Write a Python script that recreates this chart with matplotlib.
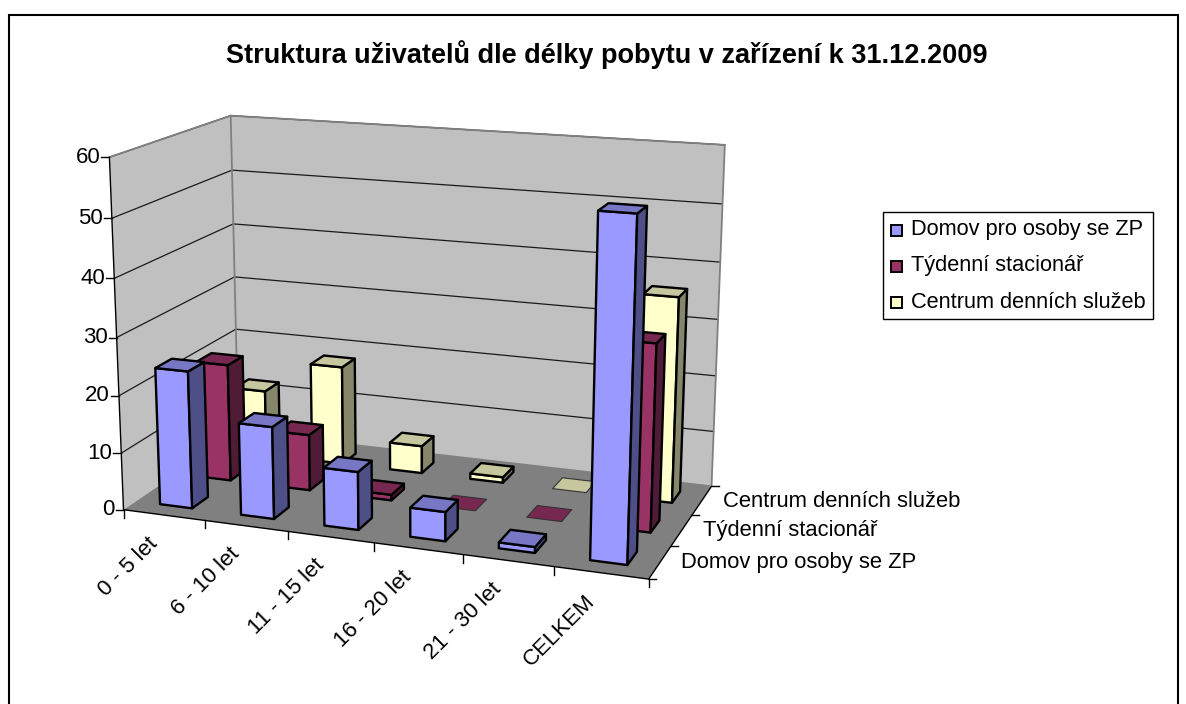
import numpy as np
import matplotlib
matplotlib.use("Agg")
import matplotlib.pyplot as plt
from matplotlib.patches import Rectangle

plt.rcParams['font.family'] = ['Liberation Sans', 'DejaVu Sans']

title = "Struktura uživatelů dle délky pobytu v zařízení k 31.12.2009"
categories = ["0 - 5 let", "6 - 10 let", "11 - 15 let", "16 - 20 let", "21 - 30 let", "CELKEM"]
series_names = ["Domov pro osoby se ZP", "Týdenní stacionář", "Centrum denních služeb"]
domov = [24, 16, 10, 5, 1, 56]
tydenni = [21, 10, 1, 0, 0, 32]
centrum = [12, 18, 5, 1, 0, 36]
y_ticks = [0, 10, 20, 30, 40, 50, 60]
Y_MAX = 60

series_values = [domov, tydenni, centrum]
front = ['#9999FF', '#993366', '#FFFFCC']
top = ['#7777C6', '#772850', '#C6C69F']
side = ['#4F4F87', '#501B36', '#86866B']

# Projective camera fitted to the corners of the plot box (pixel anchors)
anchors = [((0, 0, 0), (123.3, 510.0)), ((1, 0, 0), (648.3, 579.3)),
           ((1, 1, 0), (711.7, 486.0)), ((0, 1, 0), (238.7, 431.5)),
           ((0, 0, 1), (110.0, 156.7)), ((0, 1, 1), (230.0, 116.0)),
           ((1, 1, 1), (725.0, 145.0))]
rows = []
for (X, Y, Z), (u, v) in anchors:
    p = [X, Y, Z, 1]
    rows.append(p + [0, 0, 0, 0] + [-u * c for c in p])
    rows.append([0, 0, 0, 0] + p + [-v * c for c in p])
P = np.linalg.svd(np.array(rows, float))[2][-1].reshape(3, 4)


def proj(x, d, z):
    """x in category units, d in series units, z in value units -> pixels."""
    h = P @ np.array([x / len(categories), d / len(series_names), z / Y_MAX, 1.0])
    return h[0] / h[2], h[1] / h[2]


fig = plt.figure(figsize=(11.86, 7.04), dpi=100)
ax = fig.add_axes([0, 0, 1, 1])
ax.set_xlim(0, 1186)
ax.set_ylim(704, 0)
ax.axis('off')

ax.add_patch(Rectangle((9, 14.5), 1169, 700, fc='white', ec='black', lw=1.5, zorder=0))

nc, ns = len(categories), len(series_names)


def poly(pts, fc, ec='none', lw=0, z=1):
    ax.fill([p[0] for p in pts], [p[1] for p in pts], fc=fc, ec=ec, lw=lw, zorder=z,
            joinstyle='round')


def line(a, b, color, lw, z=2):
    ax.plot([a[0], b[0]], [a[1], b[1]], color=color, lw=lw, zorder=z, solid_capstyle='round')


# Walls and floor
poly([proj(0, 0, 0), proj(0, ns, 0), proj(0, ns, Y_MAX), proj(0, 0, Y_MAX)], '#C0C0C0')
poly([proj(0, ns, 0), proj(nc, ns, 0), proj(nc, ns, Y_MAX), proj(0, ns, Y_MAX)], '#C0C0C0')
poly([proj(0, 0, 0), proj(nc, 0, 0), proj(nc, ns, 0), proj(0, ns, 0)], '#808080')
for t in y_ticks[1:]:
    line(proj(0, 0, t), proj(0, ns, t), '#1a1a1a', 0.9)
    line(proj(0, ns, t), proj(nc, ns, t), '#1a1a1a', 0.9)
for a, b in [((0, ns, 0), (0, ns, Y_MAX)), ((0, 0, Y_MAX), (0, ns, Y_MAX)),
             ((0, ns, Y_MAX), (nc, ns, Y_MAX)), ((nc, ns, Y_MAX), (nc, ns, 0)),
             ((0, ns, 0), (nc, ns, 0))]:
    line(proj(*a), proj(*b), '#808080', 1.3)

# Axes lines and ticks
line(proj(0, 0, 0), proj(0, 0, Y_MAX), 'black', 1.0, 3)
line(proj(0, 0, 0), proj(nc, 0, 0), 'black', 1.0, 3)
line(proj(nc, 0, 0), proj(nc, ns, 0), 'black', 1.0, 3)
for t in y_ticks:
    x0, y0 = proj(0, 0, t)
    ax.plot([x0 - 8, x0], [y0, y0], color='black', lw=1, zorder=3)
    ax.text(x0 - 9, y0, str(t), ha='right', va='center', fontsize=16, zorder=5)
for i in range(nc + 1):
    x0, y0 = proj(i, 0, 0)
    ax.plot([x0, x0], [y0, y0 + 8], color='black', lw=1, zorder=3)
for i, c in enumerate(categories):
    x0, y0 = proj(i + 0.5, 0, 0)
    ax.text(x0 - 17, y0 + 18, c, rotation=45, ha='right', va='top', rotation_mode='anchor',
            fontsize=16, zorder=5)
for j in range(ns + 1):
    x0, y0 = proj(nc, j, 0)
    ax.plot([x0, x0 + 7], [y0, y0], color='black', lw=1, zorder=3)
for j, s in enumerate(series_names):
    x0, y0 = proj(nc, j + 0.5, 0)
    ax.text(x0 + 21, y0 + 1, s, ha='left', va='center', fontsize=15.8, zorder=5)

# Bars, back row first
GAP = 0.3
z = 10
for j in reversed(range(ns)):
    for i in range(nc):
        v = series_values[j][i]
        x0, x1 = i + GAP, i + 1 - GAP
        d0, d1 = j + GAP, j + 1 - GAP
        if v > 0:
            poly([proj(x0, d0, 0), proj(x1, d0, 0), proj(x1, d0, v), proj(x0, d0, v)], front[j], 'black', 1.7, z)
            poly([proj(x1, d0, 0), proj(x1, d1, 0), proj(x1, d1, v), proj(x1, d0, v)], side[j], 'black', 1.7, z)
            poly([proj(x0, d0, v), proj(x1, d0, v), proj(x1, d1, v), proj(x0, d1, v)], top[j], 'black', 1.7, z)
        else:
            poly([proj(x0, d0, v), proj(x1, d0, v), proj(x1, d1, v), proj(x0, d1, v)], top[j], '#333333', 0.8, z)
        z += 1

ax.text(606.5, 55, title, ha='center', va='center', fontsize=19.5, fontweight='bold', zorder=5)

# Legend
ax.add_patch(Rectangle((882.5, 211.5), 270, 107, fc='white', ec='black', lw=1, zorder=30))
for j, s in enumerate(series_names):
    yc = 230 + j * 36
    ax.add_patch(Rectangle((890.5, yc - 5.5), 11, 11, fc=front[j], ec='black', lw=1.4, zorder=31))
    ax.text(911, yc, s, ha='left', va='center', fontsize=15.65, zorder=31)

fig.savefig('out.png', dpi=100)
